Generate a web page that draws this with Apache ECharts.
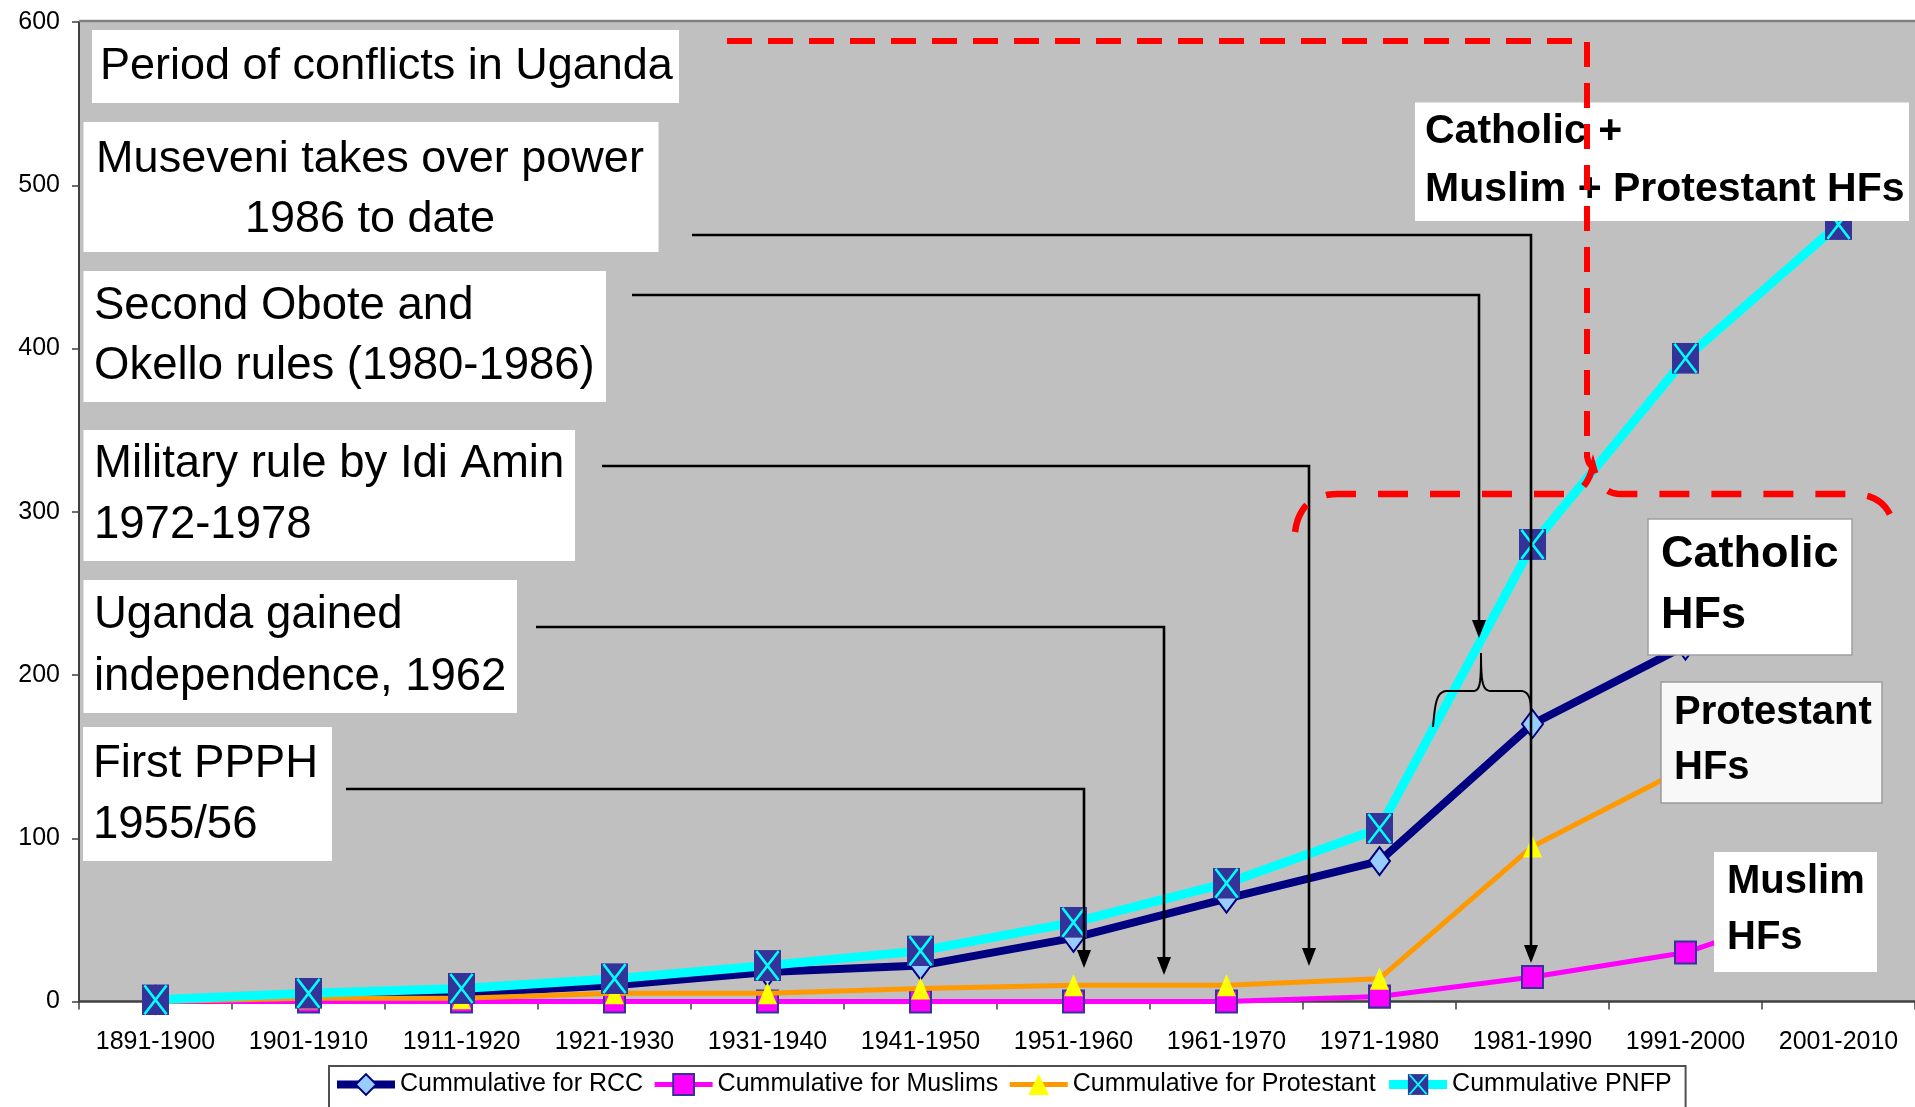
<!DOCTYPE html>
<html>
<head>
<meta charset="utf-8">
<script src="https://cdn.jsdelivr.net/npm/echarts@6/dist/echarts.min.js"></script>
<style>
html,body{margin:0;padding:0;background:#fff;overflow:hidden;}
#chart{width:1915px;height:1107px;}
</style>
</head>
<body>
<div id="chart"></div>
<script>
// ---------------- DATA ----------------
const categories = ['1891-1900','1901-1910','1911-1920','1921-1930','1931-1940','1941-1950',
                    '1951-1960','1961-1970','1971-1980','1981-1990','1991-2000','2001-2010'];
const rccValues        = [1, 4, 5, 10, 18, 22, 39, 63, 86, 170, 218, 251];
const muslimValues     = [0, 0, 0, 0, 0, 0, 0, 0, 3, 15, 30, 62];
const protestantValues = [0, 2, 2, 5, 5, 8, 10, 10, 14, 95, 143, 163];
const pnfpValues       = [1, 5, 8, 14, 22, 31, 48.5, 72.5, 106, 280, 394, 476];
const seriesNames = ['Cummulative for RCC','Cummulative for Muslims','Cummulative for Protestant','Cummulative PNFP'];
const yMin = 0, yMax = 600, yStep = 100;

const eventLabels = [
  ['Period of conflicts in Uganda'],
  ['Museveni takes over power','1986 to date'],
  ['Second Obote and','Okello rules (1980-1986)'],
  ['Military rule by Idi Amin','1972-1978'],
  ['Uganda gained','independence, 1962'],
  ['First PPPH','1955/56']
];
const groupLabels = [
  ['Catholic +','Muslim + Protestant HFs'],
  ['Catholic','HFs'],
  ['Protestant','HFs'],
  ['Muslim','HFs']
];

// ---------------- LAYOUT / STYLE ----------------
const FONT = "'Liberation Sans', Arial, sans-serif";

const leftBoxLayout = [
  {r:[92,30,587,73],   size:45, align:'left',   x:100, ys:[66.5]},
  {r:[83.5,122,575,130], size:45, align:'center', x:370, ys:[159.5,219.5]},
  {r:[83.5,271,522.5,131], size:45.5, align:'left', x:94, ys:[306.5,366.5]},
  {r:[83.5,430,491.5,131], size:45.5, align:'left', x:94, ys:[464.5,525]},
  {r:[83.5,580,433.5,133], size:45.5, align:'left', x:94, ys:[615.5,677.5]},
  {r:[83,727,249,134], size:45.5, align:'left', x:93, ys:[764,825]}
];
const rightBoxLayout = [
  {r:[1415,102.5,494,118.5], size:41, x:1425, ys:[132,189.5], fill:'#fff', stroke:null},
  {r:[1648,519,204,136], size:45, x:1661, ys:[555,615.5], fill:'#fff', stroke:'#a0a0a0'},
  {r:[1661,682,221,121], size:40, x:1674, ys:[712.5,767.5], fill:'#f8f8f8', stroke:'#9a9a9a'},
  {r:[1714,852,163,120], size:40, x:1727, ys:[882,938], fill:'#fff', stroke:null}
];
// connector polylines: [startX, y, endX, tipY]
const connectors = [
  [346, 789, 1084, 968],
  [536, 627, 1164, 975],
  [602, 466, 1309, 966],
  [632, 295, 1479, 638],
  [692, 235, 1531, 963]
];

const pnfpSymbolSvg = '<svg xmlns="http://www.w3.org/2000/svg" width="28" height="31" viewBox="0 0 28 31">' +
  '<rect x="0" y="0" width="28" height="31" fill="#333399"/>' +
  '<path d="M2.5,1 L25.5,30 M25.5,1 L2.5,30" stroke="#00FFFF" stroke-width="2.6" fill="none"/></svg>';
const pnfpSymbol = 'image://data:image/svg+xml;charset=utf-8,' + encodeURIComponent(pnfpSymbolSvg);

// helper: build a polyline from segments (L = line to, Q = quadratic, C = cubic)
function buildPath(start, segs) {
  const pts = [start.slice()];
  let cur = start.slice();
  segs.forEach(s => {
    if (s[0] === 'L') { cur = [s[1], s[2]]; pts.push(cur); }
    else if (s[0] === 'Q') {
      const c = [s[1], s[2]], e = [s[3], s[4]];
      for (let i = 1; i <= 12; i++) {
        const t = i / 12, u = 1 - t;
        pts.push([u*u*cur[0] + 2*u*t*c[0] + t*t*e[0], u*u*cur[1] + 2*u*t*c[1] + t*t*e[1]]);
      }
      cur = e;
    } else if (s[0] === 'C') {
      const c1 = [s[1], s[2]], c2 = [s[3], s[4]], e = [s[5], s[6]];
      for (let i = 1; i <= 12; i++) {
        const t = i / 12, u = 1 - t;
        pts.push([u*u*u*cur[0] + 3*u*u*t*c1[0] + 3*u*t*t*c2[0] + t*t*t*e[0],
                  u*u*u*cur[1] + 3*u*u*t*c1[1] + 3*u*t*t*c2[1] + t*t*t*e[1]]);
      }
      cur = e;
    }
  });
  return pts;
}

const graphics = [];
// plot top border
graphics.push({type:'line', z:5, shape:{x1:79,y1:21,x2:1915,y2:21}, style:{stroke:'#808080', lineWidth:2.5}});

// left boxes
leftBoxLayout.forEach((b, i) => {
  graphics.push({type:'rect', z:50, shape:{x:b.r[0], y:b.r[1], width:b.r[2], height:b.r[3]}, style:{fill:'#fff'}});
  eventLabels[i].forEach((t, j) => {
    graphics.push({type:'text', z:51, x:b.x, y:b.ys[j],
      style:{text:t, fontFamily:FONT, fontSize:b.size, fill:'#000', align:b.align, verticalAlign:'middle'}});
  });
});

// connectors with arrows
connectors.forEach(c => {
  const [x0, y, x1, tip] = c;
  graphics.push({type:'polyline', z:60, shape:{points:[[x0,y],[x1,y],[x1,tip-14]]},
    style:{stroke:'#000', lineWidth:2.6, fill:null}});
  graphics.push({type:'polygon', z:61, shape:{points:[[x1-7,tip-18],[x1+7,tip-18],[x1,tip]]},
    style:{fill:'#000'}});
});

// small black curly brace
graphics.push({type:'polyline', z:60, shape:{points: buildPath([1433,727], [
  ['C',1435,705,1436,692,1446,691], ['L',1474,691], ['C',1480,690,1481,684,1481,653],
  ['C',1481,684,1483,690,1490,691], ['L',1522,691], ['C',1529,692,1531,700,1531,710]])},
  style:{stroke:'#000', lineWidth:2, fill:null}});

// right boxes
rightBoxLayout.forEach((b, i) => {
  graphics.push({type:'rect', z:50, shape:{x:b.r[0], y:b.r[1], width:b.r[2], height:b.r[3]},
    style:{fill:b.fill, stroke:b.stroke || null, lineWidth:b.stroke ? 1.5 : 0}});
  groupLabels[i].forEach((t, j) => {
    graphics.push({type:'text', z:51, x:b.x, y:b.ys[j],
      style:{text:t, fontFamily:FONT, fontWeight:'bold', fontSize:b.size, fill:'#000', align:'left', verticalAlign:'middle'}});
  });
});

// red dashed conflict period markers
graphics.push({type:'polyline', z:70, shape:{points:[[727,41],[1587,41],[1587,458]]},
  style:{stroke:'#FF0000', lineWidth:6, lineDash:[25,16], fill:null}});
graphics.push({type:'polyline', z:70, shape:{points: buildPath([1587,455], [['Q',1588,466,1594,467]])},
  style:{stroke:'#FF0000', lineWidth:6, fill:null}});
graphics.push({type:'polyline', z:70, shape:{points: buildPath([1295,532], [
  ['Q',1300,494,1338,494], ['L',1566,494], ['Q',1586,494,1593,466],
  ['Q',1600,494,1620,494], ['L',1852,494], ['Q',1890,494,1895,532]])},
  style:{stroke:'#FF0000', lineWidth:6.5, lineDash:[30,22], fill:null}});

const legendLineWidths = [8, 5, 5, 9];

const chart = echarts.init(document.getElementById('chart'), null, {renderer:'canvas'});
chart.setOption({
  animation:false,
  backgroundColor:'#ffffff',
  grid:{left:79, right:0, top:22, bottom:105.5, show:true, backgroundColor:'#C0C0C0', borderWidth:0},
  legend:{
    left:329, top:1066, orient:'horizontal',
    itemWidth:58, itemHeight:26, itemGap:9,
    padding:[6,14,16,4],
    backgroundColor:'#ffffff', borderColor:'#505050', borderWidth:2,
    textStyle:{fontFamily:FONT, fontSize:25, color:'#000'},
    data:seriesNames.map((n, i) => ({name:n, lineStyle:{width:legendLineWidths[i]}}))
  },
  xAxis:{
    type:'category', data:categories, boundaryGap:true,
    axisLine:{lineStyle:{color:'#404040', width:2.5}},
    axisTick:{show:true, length:8, lineStyle:{color:'#404040', width:1.5}},
    axisLabel:{fontFamily:FONT, fontSize:25, color:'#000', margin:28, interval:0},
    splitLine:{show:false}
  },
  yAxis:{
    type:'value', min:yMin, max:yMax, interval:yStep,
    axisLine:{show:true, lineStyle:{color:'#404040', width:2}},
    axisTick:{show:true, length:7, lineStyle:{color:'#404040', width:1.5}},
    axisLabel:{fontFamily:FONT, fontSize:25, color:'#000', margin:19},
    splitLine:{show:false}
  },
  series:[
    {name:seriesNames[0], type:'line', data:rccValues, symbol:'diamond', symbolSize:[21,28], showAllSymbol:true,
     lineStyle:{color:'#000080', width:8}, itemStyle:{color:'#99CCFF', borderColor:'#000080', borderWidth:2}, z:2},
    {name:seriesNames[1], type:'line', data:muslimValues, symbol:'rect', symbolSize:[21,22], showAllSymbol:true,
     lineStyle:{color:'#FF00FF', width:5}, itemStyle:{color:'#FF00FF', borderColor:'#333399', borderWidth:2}, z:3},
    {name:seriesNames[2], type:'line', data:protestantValues, symbol:'triangle', symbolSize:[19,22], showAllSymbol:true,
     lineStyle:{color:'#FF9900', width:5}, itemStyle:{color:'#FFFF00', borderWidth:0}, z:4},
    {name:seriesNames[3], type:'line', data:pnfpValues, symbol:pnfpSymbol, symbolSize:[27,31], showAllSymbol:true,
     lineStyle:{color:'#00FFFF', width:9}, itemStyle:{color:'#00FFFF'}, z:5}
  ],
  graphic:graphics
});
</script>
</body>
</html>
